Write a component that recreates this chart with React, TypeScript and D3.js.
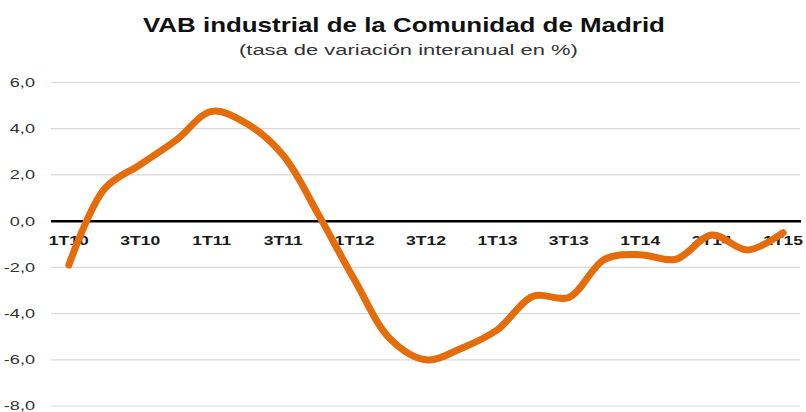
import React, { useEffect, useRef } from "react";
import * as d3 from "d3";

const quarters = [
  "1T10", "2T10", "3T10", "4T10",
  "1T11", "2T11", "3T11", "4T11",
  "1T12", "2T12", "3T12", "4T12",
  "1T13", "2T13", "3T13", "4T13",
  "1T14", "2T14", "3T14", "4T14",
  "1T15",
];
const vabValues = [
  -1.9, 1.4, 2.45, 3.5,
  4.75, 4.2, 2.85, 0.25,
  -2.55, -5.1, -6.0, -5.5,
  -4.7, -3.25, -3.3, -1.65,
  -1.45, -1.65, -0.6, -1.25,
  -0.5,
];
const yTicks = [-8, -6, -4, -2, 0, 2, 4, 6];
const shownLabels = ["1T10", "3T10", "1T11", "3T11", "1T12", "3T12", "1T13", "3T13", "1T14", "3T14", "1T15"];

const title = "VAB industrial de la Comunidad de Madrid";
const subtitle = "(tasa de variación interanual en %)";

// the source picture is stretched sideways, so text is widened around its anchor
function stretch(sel: d3.Selection<SVGTextElement, any, any, any>, sx: number) {
  sel.each(function () {
    const ax = +(this.getAttribute("x") || 0);
    d3.select(this).attr("transform", `translate(${ax},0) scale(${sx},1) translate(${-ax},0)`);
  });
}

function fitWidth(sel: d3.Selection<SVGTextElement, any, any, any>, target: number) {
  const w = sel.node()!.getComputedTextLength();
  stretch(sel, target / w);
}

const App = () => {
  const ref = useRef<SVGSVGElement>(null);

  useEffect(() => {
    const left = 51, right = 801, top = 82.5, bottom = 406;

    const svg = d3.select(ref.current);
    svg.selectAll("*").remove();

    const x = d3.scaleBand().domain(quarters).range([left, right]);
    const y = d3.scaleLinear().domain([-8, 6]).range([bottom, top]);
    const font = "'Liberation Sans', Arial, Helvetica, sans-serif";

    const t = svg.append("text")
      .attr("x", 143).attr("y", 32)
      .style("font", `bold 21px ${font}`)
      .attr("fill", "#111")
      .text(title);
    fitWidth(t, 522);

    const st = svg.append("text")
      .attr("x", 239).attr("y", 55)
      .style("font", `15px ${font}`)
      .attr("fill", "#333")
      .text(subtitle);
    fitWidth(st, 339);

    // grid lines
    svg.append("g")
      .selectAll("line")
      .data(yTicks.filter(d => d !== 0))
      .join("line")
      .attr("x1", left).attr("x2", right - 1)
      .attr("y1", d => y(d)).attr("y2", d => y(d))
      .attr("stroke", "#d9d9d9")
      .attr("stroke-width", 1.2);

    // y labels
    const yl = svg.append("g")
      .selectAll("text")
      .data(yTicks)
      .join("text")
      .attr("x", 35)
      .attr("y", d => y(d))
      .attr("dy", "0.36em")
      .attr("text-anchor", "end")
      .style("font", `12.5px ${font}`)
      .attr("fill", "#333")
      .text(d => d3.format(".1f")(d).replace(".", ",").replace("−", "-"));
    stretch(yl as any, 1.45);

    // zero line
    svg.append("line")
      .attr("x1", left).attr("x2", right)
      .attr("y1", y(0)).attr("y2", y(0))
      .attr("stroke", "#000")
      .attr("stroke-width", 2.5);

    // x labels
    const xl = svg.append("g")
      .selectAll("text")
      .data(shownLabels)
      .join("text")
      .attr("x", d => (x(d) as number) + x.bandwidth() / 2)
      .attr("y", 245)
      .attr("text-anchor", "middle")
      .style("font", `bold 13px ${font}`)
      .attr("fill", "#1a1a1a")
      .text(d => d);
    stretch(xl as any, 1.35);

    const line = d3.line<number>()
      .x((d, i) => (x(quarters[i]) as number) + x.bandwidth() / 2)
      .y(d => y(d))
      .curve(d3.curveCatmullRom.alpha(0.5));

    svg.append("path")
      .datum(vabValues)
      .attr("d", line)
      .attr("fill", "none")
      .attr("stroke", "#E46C0A")
      .attr("stroke-width", 7)
      .attr("stroke-linecap", "round")
      .attr("stroke-linejoin", "round");
  }, []);

  return (
    <svg
      ref={ref}
      width={806}
      height={412}
      style={{ position: "absolute", left: 0, top: 0, background: "#fff" }}
    />
  );
};

export default App;
